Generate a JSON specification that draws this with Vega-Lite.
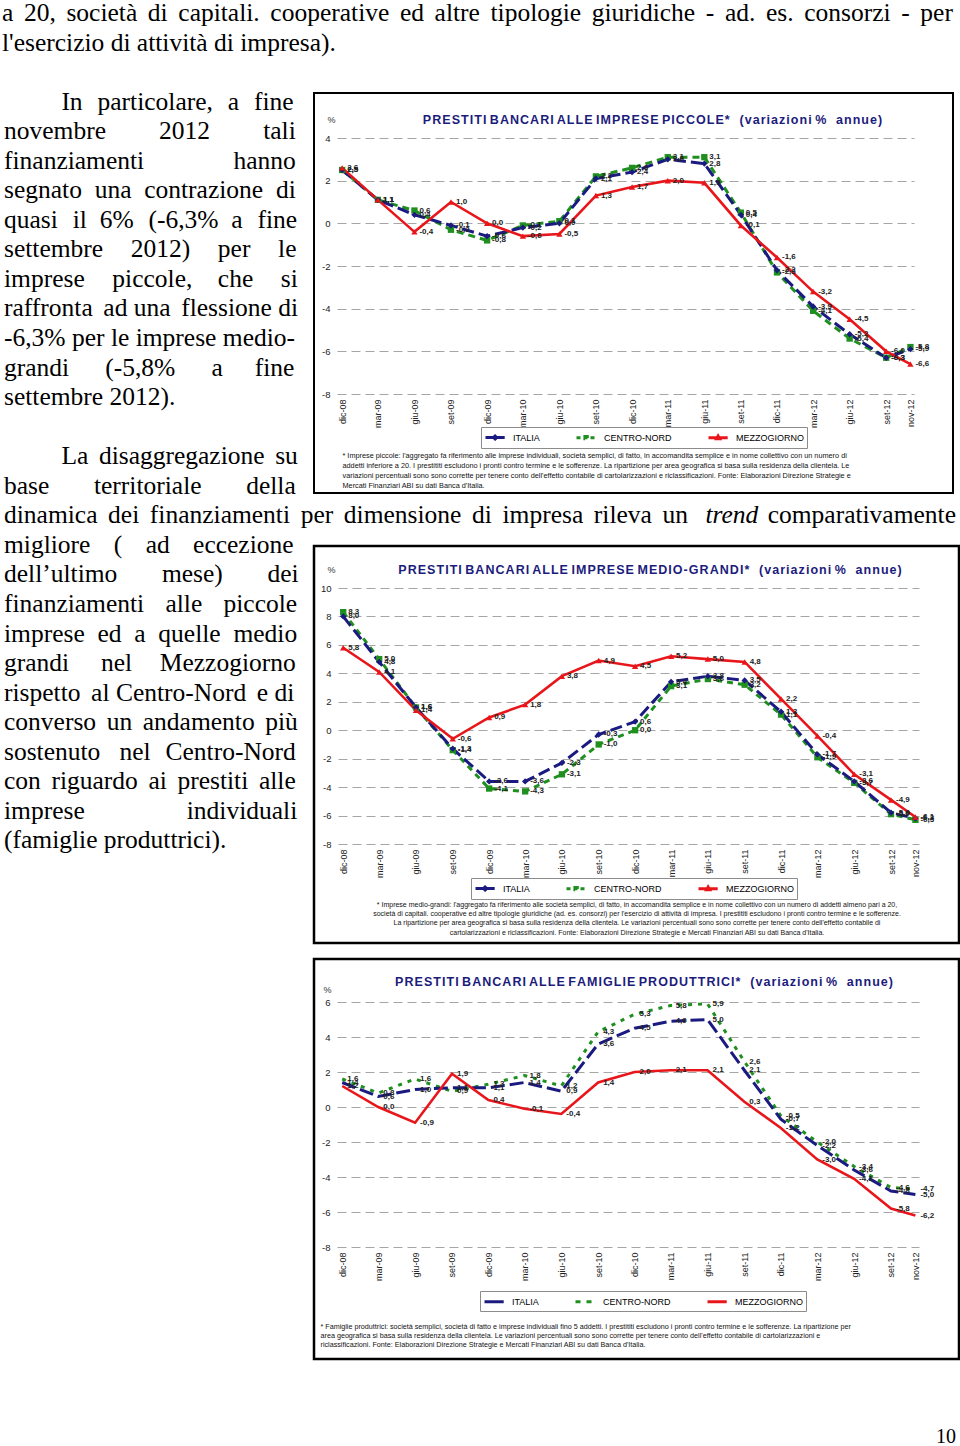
{
"$schema": "https://vega.github.io/schema/vega-lite/v6.json",
"background": "#ffffff",
"padding": 0,
"columns": 2,
"align": "none",
"bounds": "flush",
"spacing": {"row": 0, "column": 13},
"config": {
  "view": {"stroke": "transparent"},
  "font": "Liberation Sans",
  "locale": {"number": {"decimal": ",", "thousands": ".", "grouping": [3], "currency": ["", " €"], "minus": "-"}}
},
"datasets": {
  "piccole": [
    {"mese":"2008-12-01","ITALIA":2.5,"CENTRO-NORD":2.5,"MEZZOGIORNO":2.6},
    {"mese":"2009-03-01","ITALIA":1.1,"CENTRO-NORD":1.1,"MEZZOGIORNO":1.1},
    {"mese":"2009-06-01","ITALIA":0.4,"CENTRO-NORD":0.6,"MEZZOGIORNO":-0.4},
    {"mese":"2009-09-01","ITALIA":-0.1,"CENTRO-NORD":-0.3,"MEZZOGIORNO":1.0},
    {"mese":"2009-12-01","ITALIA":-0.6,"CENTRO-NORD":-0.8,"MEZZOGIORNO":0.0},
    {"mese":"2010-03-01","ITALIA":-0.2,"CENTRO-NORD":-0.1,"MEZZOGIORNO":-0.6},
    {"mese":"2010-06-01","ITALIA":0.0,"CENTRO-NORD":0.1,"MEZZOGIORNO":-0.5},
    {"mese":"2010-09-01","ITALIA":2.1,"CENTRO-NORD":2.2,"MEZZOGIORNO":1.3},
    {"mese":"2010-12-01","ITALIA":2.4,"CENTRO-NORD":2.6,"MEZZOGIORNO":1.7},
    {"mese":"2011-03-01","ITALIA":3.0,"CENTRO-NORD":3.1,"MEZZOGIORNO":2.0},
    {"mese":"2011-06-01","ITALIA":2.8,"CENTRO-NORD":3.1,"MEZZOGIORNO":1.9},
    {"mese":"2011-09-01","ITALIA":0.4,"CENTRO-NORD":0.5,"MEZZOGIORNO":-0.1},
    {"mese":"2011-12-01","ITALIA":-2.2,"CENTRO-NORD":-2.3,"MEZZOGIORNO":-1.6},
    {"mese":"2012-03-01","ITALIA":-3.9,"CENTRO-NORD":-4.1,"MEZZOGIORNO":-3.2},
    {"mese":"2012-06-01","ITALIA":-5.2,"CENTRO-NORD":-5.4,"MEZZOGIORNO":-4.5},
    {"mese":"2012-09-01","ITALIA":-6.3,"CENTRO-NORD":-6.3,"MEZZOGIORNO":-6.0},
    {"mese":"2012-11-01","ITALIA":-5.9,"CENTRO-NORD":-5.8,"MEZZOGIORNO":-6.6}
  ],
  "medio": [
    {"mese":"2008-12-01","ITALIA":8.0,"CENTRO-NORD":8.3,"MEZZOGIORNO":5.8},
    {"mese":"2009-03-01","ITALIA":4.8,"CENTRO-NORD":5.0,"MEZZOGIORNO":4.1},
    {"mese":"2009-06-01","ITALIA":1.6,"CENTRO-NORD":1.6,"MEZZOGIORNO":1.4},
    {"mese":"2009-09-01","ITALIA":-1.3,"CENTRO-NORD":-1.4,"MEZZOGIORNO":-0.6},
    {"mese":"2009-12-01","ITALIA":-3.6,"CENTRO-NORD":-4.1,"MEZZOGIORNO":0.9},
    {"mese":"2010-03-01","ITALIA":-3.6,"CENTRO-NORD":-4.3,"MEZZOGIORNO":1.8},
    {"mese":"2010-06-01","ITALIA":-2.3,"CENTRO-NORD":-3.1,"MEZZOGIORNO":3.8},
    {"mese":"2010-09-01","ITALIA":-0.3,"CENTRO-NORD":-1.0,"MEZZOGIORNO":4.9},
    {"mese":"2010-12-01","ITALIA":0.6,"CENTRO-NORD":0.0,"MEZZOGIORNO":4.5},
    {"mese":"2011-03-01","ITALIA":3.4,"CENTRO-NORD":3.1,"MEZZOGIORNO":5.2},
    {"mese":"2011-06-01","ITALIA":3.8,"CENTRO-NORD":3.6,"MEZZOGIORNO":5.0},
    {"mese":"2011-09-01","ITALIA":3.5,"CENTRO-NORD":3.2,"MEZZOGIORNO":4.8},
    {"mese":"2011-12-01","ITALIA":1.3,"CENTRO-NORD":1.1,"MEZZOGIORNO":2.2},
    {"mese":"2012-03-01","ITALIA":-1.7,"CENTRO-NORD":-1.9,"MEZZOGIORNO":-0.4},
    {"mese":"2012-06-01","ITALIA":-3.6,"CENTRO-NORD":-3.7,"MEZZOGIORNO":-3.1},
    {"mese":"2012-09-01","ITALIA":-5.8,"CENTRO-NORD":-5.9,"MEZZOGIORNO":-4.9},
    {"mese":"2012-11-01","ITALIA":-6.2,"CENTRO-NORD":-6.3,"MEZZOGIORNO":-6.1}
  ],
  "famiglie": [
    {"mese":"2008-12-01","ITALIA":1.4,"CENTRO-NORD":1.6,"MEZZOGIORNO":1.2},
    {"mese":"2009-03-01","ITALIA":0.6,"CENTRO-NORD":0.8,"MEZZOGIORNO":0.0},
    {"mese":"2009-06-01","ITALIA":1.0,"CENTRO-NORD":1.6,"MEZZOGIORNO":-0.9},
    {"mese":"2009-09-01","ITALIA":1.1,"CENTRO-NORD":0.9,"MEZZOGIORNO":1.9},
    {"mese":"2009-12-01","ITALIA":1.1,"CENTRO-NORD":1.3,"MEZZOGIORNO":0.4},
    {"mese":"2010-03-01","ITALIA":1.4,"CENTRO-NORD":1.8,"MEZZOGIORNO":-0.1},
    {"mese":"2010-06-01","ITALIA":0.9,"CENTRO-NORD":1.2,"MEZZOGIORNO":-0.4},
    {"mese":"2010-09-01","ITALIA":3.6,"CENTRO-NORD":4.3,"MEZZOGIORNO":1.4},
    {"mese":"2010-12-01","ITALIA":4.5,"CENTRO-NORD":5.3,"MEZZOGIORNO":2.0},
    {"mese":"2011-03-01","ITALIA":4.9,"CENTRO-NORD":5.8,"MEZZOGIORNO":2.1},
    {"mese":"2011-06-01","ITALIA":5.0,"CENTRO-NORD":5.9,"MEZZOGIORNO":2.1},
    {"mese":"2011-09-01","ITALIA":2.1,"CENTRO-NORD":2.6,"MEZZOGIORNO":0.3},
    {"mese":"2011-12-01","ITALIA":-0.7,"CENTRO-NORD":-0.5,"MEZZOGIORNO":-1.2},
    {"mese":"2012-03-01","ITALIA":-2.2,"CENTRO-NORD":-2.0,"MEZZOGIORNO":-3.0},
    {"mese":"2012-06-01","ITALIA":-3.6,"CENTRO-NORD":-3.4,"MEZZOGIORNO":-4.1},
    {"mese":"2012-09-01","ITALIA":-4.8,"CENTRO-NORD":-4.6,"MEZZOGIORNO":-5.8},
    {"mese":"2012-11-01","ITALIA":-5.0,"CENTRO-NORD":-4.7,"MEZZOGIORNO":-6.2}
  ]
},
"resolve": {"scale": {"color": "independent", "shape": "independent", "strokeDash": "independent"}, "legend": {"color": "independent", "shape": "independent", "strokeDash": "independent"}},
"concat": [
  {
    "width": 300, "height": 92,
    "data": {"values": [
      {"riga": 0, "testo": "a \u200620, \u2006società \u2006di \u2006capitali. \u2006cooperative \u2006ed \u2006altre \u2006tipologie \u2006giuridiche \u2006- \u2006ad. \u2006es. \u2006consorzi \u2006- \u2006per"},
      {"riga": 1, "testo": "l'esercizio di attività di impresa)."}
    ]},
    "mark": {"type": "text", "align": "left", "baseline": "middle", "font": "Liberation Serif", "fontSize": 25.5, "color": "#000000", "dx": 1},
    "encoding": {
      "x": {"datum": 0, "type": "quantitative", "scale": {"domain": [0, 1], "nice": false, "zero": false}, "axis": null},
      "y": {"field": "riga", "type": "quantitative", "scale": {"domain": [-0.406, 2.707], "reverse": true, "nice": false, "zero": false}, "axis": null},
      "text": {"field": "testo"}
    }
  },
  {
    "width": 645, "height": 92,
    "data": {"values": [{"testo": ""}]},
    "mark": {"type": "text"},
    "encoding": {"text": {"field": "testo"}}
  },
  {
    "width": 300, "height": 400,
    "data": {"values": [
      {"riga": 3, "testo": "\u200b\u2003\u2003\u2005In \u2004particolare, \u2004a \u2004fine"},
      {"riga": 4, "testo": "novembre \u2003\u2002\u20042012 \u2003\u2002\u2004tali"},
      {"riga": 5, "testo": "finanziamenti\u2003\u2003\u2003\u2002hanno"},
      {"riga": 6, "testo": "segnato \u2005una \u2005contrazione \u2005di"},
      {"riga": 7, "testo": "quasi \u2004il \u20056% \u2004(-6,3% \u2005a \u2004fine"},
      {"riga": 8, "testo": "settembre \u2002\u20042012) \u2002\u2004per \u2002\u2004le"},
      {"riga": 9, "testo": "imprese \u2002\u2004piccole, \u2002\u2005che \u2002\u2004si"},
      {"riga": 10, "testo": "raffronta \u2006ad una \u2006flessione di"},
      {"riga": 11, "testo": "-6,3% per le imprese medio-"},
      {"riga": 12, "testo": "grandi \u2003\u2006(-5,8% \u2003\u2006a \u2003fine"},
      {"riga": 13, "testo": "settembre 2012)."},
      {"riga": 15, "testo": "\u200b\u2003\u2003\u2005La \u2006disaggregazione \u2006su"},
      {"riga": 16, "testo": "base \u2003\u2002territoriale \u2003\u2002della"}
    ]},
    "mark": {"type": "text", "align": "left", "baseline": "middle", "font": "Liberation Serif", "fontSize": 25.5, "color": "#000000", "dx": 3},
    "encoding": {
      "x": {"datum": 0, "type": "quantitative", "scale": {"domain": [0, 1], "nice": false, "zero": false}, "axis": null},
      "y": {"field": "riga", "type": "quantitative", "scale": {"domain": [2.707, 16.244], "reverse": true, "nice": false, "zero": false}, "axis": null},
      "text": {"field": "testo"}
    }
  },
  {
    "width": 639, "height": 400,
    "view": {"stroke": "#000000", "strokeWidth": 2, "fill": "#ffffff"},
    "title": {"text": "P\u200aR\u200aE\u200aS\u200aT\u200aI\u200aT\u200aI B\u200aA\u200aN\u200aC\u200aA\u200aR\u200aI A\u200aL\u200aL\u200aE I\u200aM\u200aP\u200aR\u200aE\u200aS\u200aE P\u200aI\u200aC\u200aC\u200aO\u200aL\u200aE\u200a* \u2002(\u200av\u200aa\u200ar\u200ai\u200aa\u200az\u200ai\u200ao\u200an\u200ai %\u2002 a\u200an\u200an\u200au\u200ae\u200a)", "frame": "group", "anchor": "middle", "orient": "top", "offset": -39, "dx": 19, "baseline": "middle", "font": "Liberation Sans", "fontSize": 12.5, "fontWeight": "bold", "color": "#1c1c7c"},
    "data": {"name": "piccole"},
    "transform": [{"fold": ["ITALIA", "CENTRO-NORD", "MEZZOGIORNO"], "as": ["serie", "valore"]}],
    "encoding": {
      "x": {"field": "mese", "type": "temporal",
        "scale": {"type": "utc", "domain": [{"year":2008,"month":11,"date":18,"utc":true}, {"year":2012,"month":11,"date":10,"utc":true}], "range": [23, 600]},
        "axis": {"orient": "bottom", "offset": -99,
          "values": [{"year":2008,"month":12,"date":1,"utc":true},{"year":2009,"month":3,"date":1,"utc":true},{"year":2009,"month":6,"date":1,"utc":true},{"year":2009,"month":9,"date":1,"utc":true},{"year":2009,"month":12,"date":1,"utc":true},{"year":2010,"month":3,"date":1,"utc":true},{"year":2010,"month":6,"date":1,"utc":true},{"year":2010,"month":9,"date":1,"utc":true},{"year":2010,"month":12,"date":1,"utc":true},{"year":2011,"month":3,"date":1,"utc":true},{"year":2011,"month":6,"date":1,"utc":true},{"year":2011,"month":9,"date":1,"utc":true},{"year":2011,"month":12,"date":1,"utc":true},{"year":2012,"month":3,"date":1,"utc":true},{"year":2012,"month":6,"date":1,"utc":true},{"year":2012,"month":9,"date":1,"utc":true},{"year":2012,"month":11,"date":1,"utc":true}],
          "labelExpr": "['gen','feb','mar','apr','mag','giu','lug','ago','set','ott','nov','dic'][utcmonth(datum.value)] + '-' + utcFormat(datum.value, '%y')",
          "labelAngle": -90, "labelPadding": 5, "labelFont": "Liberation Sans", "labelFontSize": 9, "labelColor": "#222222",
          "labelOverlap": false, "labelBound": false, "labelFlush": false, "ticks": false, "domain": false, "grid": false,
          "title": ["*   Imprese piccole: l'aggregato fa riferimento alle imprese individuali, società semplici, di fatto, in accomandita semplice e in nome collettivo con un numero di", "addetti inferiore a 20. I prestititi escludono i pronti contro termine e le sofferenze. La ripartizione per area geografica si basa sulla residenza della clientela. Le", "variazioni percentuali sono sono corrette per tenere conto dell'effetto contabile di cartolarizzazioni e riclassificazioni. Fonte: Elaborazioni Direzione Strategie e", "Mercati Finanziari ABI su dati Banca d'Italia."],
          "titleX": 28, "titleY": 57, "titleAlign": "left", "titleAnchor": "start", "titleBaseline": "top", "titleAngle": 0,
          "titleFont": "Liberation Sans", "titleFontSize": 7.3, "titleFontWeight": "normal", "titleColor": "#111111", "titleLineHeight": 10, "titleLimit": 5000, "titlePadding": 0}
      },
      "y": {"field": "valore", "type": "quantitative",
        "scale": {"domain": [-8, 4], "range": [301, 45], "nice": false, "zero": false},
        "axis": {"orient": "left", "offset": -23, "values": [4, 2, 0, -2, -4, -6, -8], "labelPadding": 7, "labelFont": "Liberation Sans", "labelFontSize": 9.5, "labelColor": "#222222", "ticks": false, "domain": false, "grid": true, "gridColor": "#a6a6a6", "gridDash": [9, 5], "gridWidth": 1, "labelFlush": false, "labelOverlap": false,
          "title": "%", "titleAngle": 0, "titleX": -6, "titleY": 26, "titleAlign": "center", "titleBaseline": "middle", "titleFont": "Liberation Sans", "titleFontSize": 9, "titleFontWeight": "normal", "titleColor": "#333333", "titlePadding": 0}
      }
    },
    "layer": [
      {"data": {"values": [{}]}, "mark": {"type": "rect", "fill": "transparent", "stroke": "#999999", "strokeWidth": 1},
       "encoding": {"x": {"datum": {"year":2008,"month":11,"date":18,"utc":true}}, "x2": {"datum": {"year":2012,"month":11,"date":10,"utc":true}}, "y": {"datum": 4}, "y2": {"datum": -8}}},
      {"data": {"values": [{}]}, "mark": {"type": "rule", "color": "#999999", "strokeWidth": 1},
       "encoding": {"x": {"datum": {"year":2008,"month":11,"date":18,"utc":true}}, "x2": {"datum": {"year":2012,"month":11,"date":10,"utc":true}}, "y": {"datum": 0}}},
      {"transform": [{"filter": "datum.serie === 'CENTRO-NORD'"}], "mark": {"type": "line", "color": "#1f8f1f", "strokeWidth": 3, "strokeDash": [7, 5]}},
      {"transform": [{"filter": "datum.serie === 'ITALIA'"}], "mark": {"type": "line", "color": "#1a1a80", "strokeWidth": 3, "strokeDash": [12, 5]}},
      {"transform": [{"filter": "datum.serie === 'MEZZOGIORNO'"}], "mark": {"type": "line", "color": "#e8161b", "strokeWidth": 2.6}},
      {"transform": [{"filter": "datum.serie === 'CENTRO-NORD'"}], "mark": {"type": "point", "shape": "square", "filled": true, "size": 40, "opacity": 1, "color": "#1f8f1f"}},
      {"transform": [{"filter": "datum.serie === 'ITALIA'"}], "mark": {"type": "point", "shape": "diamond", "filled": true, "size": 40, "opacity": 1, "color": "#1a1a80"}},
      {"transform": [{"filter": "datum.serie === 'MEZZOGIORNO'"}], "mark": {"type": "point", "shape": "triangle-up", "filled": true, "size": 40, "opacity": 1, "color": "#e8161b"}},
      {"mark": {"type": "text", "align": "left", "baseline": "middle", "dx": 5, "font": "Liberation Sans", "fontSize": 8, "fontWeight": "bold", "color": "#222222"},
       "encoding": {"text": {"field": "valore", "type": "quantitative", "format": ".1f"}}},
      {"transform": [{"filter": "datum.valore > 1000"}], "mark": {"type": "point", "filled": false, "strokeWidth": 3, "opacity": 1},
       "encoding": {
         "color": {"field": "serie", "type": "nominal",
           "scale": {"domain": ["ITALIA", "CENTRO-NORD", "MEZZOGIORNO"], "range": ["#1a1a80", "#1f8f1f", "#e8161b"]},
           "legend": {"orient": "none", "legendX": 167, "legendY": 334, "direction": "horizontal", "title": null,
             "strokeColor": "#8c8c8c", "fillColor": "#ffffff", "padding": 3, "symbolSize": 144, "symbolStrokeWidth": 3,
             "labelOffset": 14, "columnPadding": 30, "labelFont": "Liberation Sans", "labelFontSize": 9, "labelColor": "#000000", "symbolOpacity": 1}
         },
         "shape": {"field": "serie", "type": "nominal",
           "scale": {"domain": ["ITALIA", "CENTRO-NORD", "MEZZOGIORNO"], "range": ["M-1,0H2.2M0.6,-0.25L0.85,0L0.6,0.25L0.35,0Z", "M-1,0H2.2M0.4,-0.2H0.8V0.2H0.4Z", "M-1,0H2.2M0.6,-0.25L0.85,0.2H0.35Z"]}},
         "strokeDash": {"field": "serie", "type": "nominal",
           "scale": {"domain": ["ITALIA", "CENTRO-NORD", "MEZZOGIORNO"], "range": [[1, 0], [4, 3], [1, 0]]}}
       }}
    ]
  },
  {
    "width": 300, "height": 53,
    "data": {"values": [{"riga": 17, "testo": "dinamica \u2006dei \u2006finanziamenti \u2006per \u2006dimensione \u2006di \u2006impresa \u2006rileva \u2006un"}]},
    "mark": {"type": "text", "align": "left", "baseline": "middle", "font": "Liberation Serif", "fontSize": 25.5, "color": "#000000", "dx": 3},
    "encoding": {
      "x": {"datum": 0, "type": "quantitative", "scale": {"domain": [0, 1], "nice": false, "zero": false}, "axis": null},
      "y": {"field": "riga", "type": "quantitative", "scale": {"domain": [16.244, 18.037], "reverse": true, "nice": false, "zero": false}, "axis": null},
      "text": {"field": "testo"}
    }
  },
  {
    "width": 645, "height": 53,
    "encoding": {
      "x": {"datum": 1, "type": "quantitative", "scale": {"domain": [0, 1], "nice": false, "zero": false}, "axis": null},
      "y": {"field": "riga", "type": "quantitative", "scale": {"domain": [16.244, 18.037], "reverse": true, "nice": false, "zero": false}, "axis": null},
      "text": {"field": "testo"}
    },
    "layer": [
      {
        "data": {"values": [{"riga": 17, "testo": "trend\u2003\u2003\u2003\u2003\u2003\u2003\u2003\u2002\u2005\u200b"}]},
        "mark": {"type": "text", "align": "right", "baseline": "middle", "font": "Liberation Serif", "fontSize": 25.5, "fontStyle": "italic", "color": "#000000", "dx": -3}
      },
      {
        "data": {"values": [{"riga": 17, "testo": "comparativamente"}]},
        "mark": {"type": "text", "align": "right", "baseline": "middle", "font": "Liberation Serif", "fontSize": 25.5, "color": "#000000", "dx": -3}
      }
    ]
  },
  {
    "width": 300, "height": 397,
    "data": {"values": [
      {"riga": 18, "testo": "migliore \u2002\u2006( \u2002\u2006ad \u2002\u2006eccezione"},
      {"riga": 19, "testo": "dell’ultimo \u2003\u2002mese) \u2003\u2002dei"},
      {"riga": 20, "testo": "finanziamenti \u2004\u2005alle \u2004\u2005piccole"},
      {"riga": 21, "testo": "imprese \u2005ed \u2005a \u2005quelle \u2005medio"},
      {"riga": 22, "testo": "grandi \u2003nel \u2002\u2004Mezzogiorno"},
      {"riga": 23, "testo": "rispetto \u2006al Centro-Nord \u2006e di"},
      {"riga": 24, "testo": "converso \u2006un \u2006andamento \u2006più"},
      {"riga": 25, "testo": "sostenuto \u2002nel \u2004Centro-Nord"},
      {"riga": 26, "testo": "con \u2006riguardo \u2006ai \u2006prestiti \u2006alle"},
      {"riga": 27, "testo": "imprese\u2003\u2003\u2003\u2003individuali"},
      {"riga": 28, "testo": "(famiglie produttrici)."}
    ]},
    "mark": {"type": "text", "align": "left", "baseline": "middle", "font": "Liberation Serif", "fontSize": 25.5, "color": "#000000", "dx": 3},
    "encoding": {
      "x": {"datum": 0, "type": "quantitative", "scale": {"domain": [0, 1], "nice": false, "zero": false}, "axis": null},
      "y": {"field": "riga", "type": "quantitative", "scale": {"domain": [18.037, 31.472], "reverse": true, "nice": false, "zero": false}, "axis": null},
      "text": {"field": "testo"}
    }
  },
  {
    "width": 645, "height": 397,
    "view": {"stroke": "#000000", "strokeWidth": 2.5, "fill": "#ffffff"},
    "title": {"text": "P\u200aR\u200aE\u200aS\u200aT\u200aI\u200aT\u200aI B\u200aA\u200aN\u200aC\u200aA\u200aR\u200aI A\u200aL\u200aL\u200aE I\u200aM\u200aP\u200aR\u200aE\u200aS\u200aE M\u200aE\u200aD\u200aI\u200aO\u200a-\u200aG\u200aR\u200aA\u200aN\u200aD\u200aI\u200a* \u2002(\u200av\u200aa\u200ar\u200ai\u200aa\u200az\u200ai\u200ao\u200an\u200ai %\u2002 a\u200an\u200an\u200au\u200ae\u200a)", "frame": "group", "anchor": "middle", "orient": "top", "offset": -36, "dx": 13.5, "baseline": "middle", "font": "Liberation Sans", "fontSize": 12.5, "fontWeight": "bold", "color": "#1c1c7c"},
    "data": {"name": "medio"},
    "transform": [{"fold": ["ITALIA", "CENTRO-NORD", "MEZZOGIORNO"], "as": ["serie", "valore"]}],
    "encoding": {
      "x": {"field": "mese", "type": "temporal",
        "scale": {"type": "utc", "domain": [{"year":2008,"month":11,"date":18,"utc":true}, {"year":2012,"month":11,"date":10,"utc":true}], "range": [24, 605]},
        "axis": {"orient": "bottom", "offset": -99,
          "values": [{"year":2008,"month":12,"date":1,"utc":true},{"year":2009,"month":3,"date":1,"utc":true},{"year":2009,"month":6,"date":1,"utc":true},{"year":2009,"month":9,"date":1,"utc":true},{"year":2009,"month":12,"date":1,"utc":true},{"year":2010,"month":3,"date":1,"utc":true},{"year":2010,"month":6,"date":1,"utc":true},{"year":2010,"month":9,"date":1,"utc":true},{"year":2010,"month":12,"date":1,"utc":true},{"year":2011,"month":3,"date":1,"utc":true},{"year":2011,"month":6,"date":1,"utc":true},{"year":2011,"month":9,"date":1,"utc":true},{"year":2011,"month":12,"date":1,"utc":true},{"year":2012,"month":3,"date":1,"utc":true},{"year":2012,"month":6,"date":1,"utc":true},{"year":2012,"month":9,"date":1,"utc":true},{"year":2012,"month":11,"date":1,"utc":true}],
          "labelExpr": "['gen','feb','mar','apr','mag','giu','lug','ago','set','ott','nov','dic'][utcmonth(datum.value)] + '-' + utcFormat(datum.value, '%y')",
          "labelAngle": -90, "labelPadding": 5, "labelFont": "Liberation Sans", "labelFontSize": 9, "labelColor": "#222222",
          "labelOverlap": false, "labelBound": false, "labelFlush": false, "ticks": false, "domain": false, "grid": false,
          "title": ["*   Imprese medio-grandi: l'aggregato fa riferimento alle società semplici, di fatto, in accomandita semplice e in nome collettivo con un numero di addetti almeno pari a 20,", "società di capitali. cooperative ed altre tipologie giuridiche (ad. es. consorzi) per l'esercizio di attività di impresa. I prestititi escludono i pronti contro termine e le sofferenze.", "La ripartizione per area geografica si basa sulla residenza della clientela. Le variazioni percentuali sono sono corrette per tenere conto dell'effetto contabile di", "cartolarizzazioni e riclassificazioni. Fonte: Elaborazioni Direzione Strategie e Mercati Finanziari ABI su dati Banca d'Italia."],
          "titleX": 322.5, "titleY": 56, "titleAlign": "center", "titleAnchor": "middle", "titleBaseline": "top", "titleAngle": 0,
          "titleFont": "Liberation Sans", "titleFontSize": 7, "titleFontWeight": "normal", "titleColor": "#111111", "titleLineHeight": 9.4, "titleLimit": 5000, "titlePadding": 0}
      },
      "y": {"field": "valore", "type": "quantitative",
        "scale": {"domain": [-8, 10], "range": [298, 42], "nice": false, "zero": false},
        "axis": {"orient": "left", "offset": -24, "values": [10, 8, 6, 4, 2, 0, -2, -4, -6, -8], "labelPadding": 7, "labelFont": "Liberation Sans", "labelFontSize": 9.5, "labelColor": "#222222", "ticks": false, "domain": false, "grid": true, "gridColor": "#a6a6a6", "gridDash": [9, 5], "gridWidth": 1, "labelFlush": false, "labelOverlap": false,
          "title": "%", "titleAngle": 0, "titleX": -7, "titleY": 23, "titleAlign": "center", "titleBaseline": "middle", "titleFont": "Liberation Sans", "titleFontSize": 9, "titleFontWeight": "normal", "titleColor": "#333333", "titlePadding": 0}
      }
    },
    "layer": [
      {"data": {"values": [{}]}, "mark": {"type": "rect", "fill": "transparent", "stroke": "#999999", "strokeWidth": 1},
       "encoding": {"x": {"datum": {"year":2008,"month":11,"date":18,"utc":true}}, "x2": {"datum": {"year":2012,"month":11,"date":10,"utc":true}}, "y": {"datum": 10}, "y2": {"datum": -8}}},
      {"data": {"values": [{}]}, "mark": {"type": "rule", "color": "#999999", "strokeWidth": 1},
       "encoding": {"x": {"datum": {"year":2008,"month":11,"date":18,"utc":true}}, "x2": {"datum": {"year":2012,"month":11,"date":10,"utc":true}}, "y": {"datum": 0}}},
      {"transform": [{"filter": "datum.serie === 'CENTRO-NORD'"}], "mark": {"type": "line", "color": "#1f8f1f", "strokeWidth": 3, "strokeDash": [6, 5]}},
      {"transform": [{"filter": "datum.serie === 'ITALIA'"}], "mark": {"type": "line", "color": "#1a1a80", "strokeWidth": 3, "strokeDash": [12, 5]}},
      {"transform": [{"filter": "datum.serie === 'MEZZOGIORNO'"}], "mark": {"type": "line", "color": "#e8161b", "strokeWidth": 2.6}},
      {"transform": [{"filter": "datum.serie === 'CENTRO-NORD'"}], "mark": {"type": "point", "shape": "square", "filled": true, "size": 40, "opacity": 1, "color": "#1f8f1f"}},
      {"transform": [{"filter": "datum.serie === 'ITALIA'"}], "mark": {"type": "point", "shape": "diamond", "filled": true, "size": 40, "opacity": 1, "color": "#1a1a80"}},
      {"transform": [{"filter": "datum.serie === 'MEZZOGIORNO'"}], "mark": {"type": "point", "shape": "triangle-up", "filled": true, "size": 40, "opacity": 1, "color": "#e8161b"}},
      {"mark": {"type": "text", "align": "left", "baseline": "middle", "dx": 5, "font": "Liberation Sans", "fontSize": 8, "fontWeight": "bold", "color": "#222222"},
       "encoding": {"text": {"field": "valore", "type": "quantitative", "format": ".1f"}}},
      {"transform": [{"filter": "datum.valore > 1000"}], "mark": {"type": "point", "filled": false, "strokeWidth": 3, "opacity": 1},
       "encoding": {
         "color": {"field": "serie", "type": "nominal",
           "scale": {"domain": ["ITALIA", "CENTRO-NORD", "MEZZOGIORNO"], "range": ["#1a1a80", "#1f8f1f", "#e8161b"]},
           "legend": {"orient": "none", "legendX": 157, "legendY": 332, "direction": "horizontal", "title": null,
             "strokeColor": "#8c8c8c", "fillColor": "#ffffff", "padding": 3, "symbolSize": 144, "symbolStrokeWidth": 3,
             "labelOffset": 14, "columnPadding": 30, "labelFont": "Liberation Sans", "labelFontSize": 9, "labelColor": "#000000", "symbolOpacity": 1}
         },
         "shape": {"field": "serie", "type": "nominal",
           "scale": {"domain": ["ITALIA", "CENTRO-NORD", "MEZZOGIORNO"], "range": ["M-1,0H2.2M0.6,-0.25L0.85,0L0.6,0.25L0.35,0Z", "M-1,0H2.2M0.4,-0.2H0.8V0.2H0.4Z", "M-1,0H2.2M0.6,-0.25L0.85,0.2H0.35Z"]}},
         "strokeDash": {"field": "serie", "type": "nominal",
           "scale": {"domain": ["ITALIA", "CENTRO-NORD", "MEZZOGIORNO"], "range": [[1, 0], [4, 3], [1, 0]]}}
       }}
    ]
  },
  {
    "width": 300, "height": 16,
    "data": {"values": [{"testo": ""}]},
    "mark": {"type": "text"},
    "encoding": {"text": {"field": "testo"}}
  },
  {
    "width": 645, "height": 16,
    "data": {"values": [{"testo": ""}]},
    "mark": {"type": "text"},
    "encoding": {"text": {"field": "testo"}}
  },
  {
    "width": 300, "height": 400,
    "data": {"values": [{"testo": ""}]},
    "mark": {"type": "text"},
    "encoding": {"text": {"field": "testo"}}
  },
  {
    "width": 645, "height": 400,
    "view": {"stroke": "#000000", "strokeWidth": 2.5, "fill": "#ffffff"},
    "title": {"text": "P\u200aR\u200aE\u200aS\u200aT\u200aI\u200aT\u200aI B\u200aA\u200aN\u200aC\u200aA\u200aR\u200aI A\u200aL\u200aL\u200aE F\u200aA\u200aM\u200aI\u200aG\u200aL\u200aI\u200aE P\u200aR\u200aO\u200aD\u200aU\u200aT\u200aT\u200aR\u200aI\u200aC\u200aI\u200a* \u2002(\u200av\u200aa\u200ar\u200ai\u200aa\u200az\u200ai\u200ao\u200an\u200ai %\u2002 a\u200an\u200an\u200au\u200ae\u200a)", "frame": "group", "anchor": "middle", "orient": "top", "offset": -35, "dx": 7.5, "baseline": "middle", "font": "Liberation Sans", "fontSize": 12.5, "fontWeight": "bold", "color": "#1c1c7c"},
    "data": {"name": "famiglie"},
    "transform": [{"fold": ["ITALIA", "CENTRO-NORD", "MEZZOGIORNO"], "as": ["serie", "valore"]}],
    "encoding": {
      "x": {"field": "mese", "type": "temporal",
        "scale": {"type": "utc", "domain": [{"year":2008,"month":11,"date":18,"utc":true}, {"year":2012,"month":11,"date":10,"utc":true}], "range": [23, 605]},
        "axis": {"orient": "bottom", "offset": -112,
          "values": [{"year":2008,"month":12,"date":1,"utc":true},{"year":2009,"month":3,"date":1,"utc":true},{"year":2009,"month":6,"date":1,"utc":true},{"year":2009,"month":9,"date":1,"utc":true},{"year":2009,"month":12,"date":1,"utc":true},{"year":2010,"month":3,"date":1,"utc":true},{"year":2010,"month":6,"date":1,"utc":true},{"year":2010,"month":9,"date":1,"utc":true},{"year":2010,"month":12,"date":1,"utc":true},{"year":2011,"month":3,"date":1,"utc":true},{"year":2011,"month":6,"date":1,"utc":true},{"year":2011,"month":9,"date":1,"utc":true},{"year":2011,"month":12,"date":1,"utc":true},{"year":2012,"month":3,"date":1,"utc":true},{"year":2012,"month":6,"date":1,"utc":true},{"year":2012,"month":9,"date":1,"utc":true},{"year":2012,"month":11,"date":1,"utc":true}],
          "labelExpr": "['gen','feb','mar','apr','mag','giu','lug','ago','set','ott','nov','dic'][utcmonth(datum.value)] + '-' + utcFormat(datum.value, '%y')",
          "labelAngle": -90, "labelPadding": 5, "labelFont": "Liberation Sans", "labelFontSize": 9, "labelColor": "#222222",
          "labelOverlap": false, "labelBound": false, "labelFlush": false, "ticks": false, "domain": false, "grid": false,
          "title": ["*   Famiglie produttrici: società semplici, società di fatto e imprese individuali fino 5 addetti. I prestititi escludono i pronti contro termine e le sofferenze. La ripartizione per", "area geografica si basa sulla residenza della clientela. Le variazioni percentuali sono sono corrette per tenere conto dell'effetto contabile di cartolarizzazioni e", "riclassificazioni. Fonte: Elaborazioni Direzione Strategie e Mercati Finanziari ABI su dati Banca d'Italia."],
          "titleX": 6, "titleY": 75, "titleAlign": "left", "titleAnchor": "start", "titleBaseline": "top", "titleAngle": 0,
          "titleFont": "Liberation Sans", "titleFontSize": 7.2, "titleFontWeight": "normal", "titleColor": "#111111", "titleLineHeight": 9.2, "titleLimit": 5000, "titlePadding": 0}
      },
      "y": {"field": "valore", "type": "quantitative",
        "scale": {"domain": [-8, 6], "range": [288, 43], "nice": false, "zero": false},
        "axis": {"orient": "left", "offset": -23, "values": [6, 4, 2, 0, -2, -4, -6, -8], "labelPadding": 7, "labelFont": "Liberation Sans", "labelFontSize": 9.5, "labelColor": "#222222", "ticks": false, "domain": false, "grid": true, "gridColor": "#a6a6a6", "gridDash": [9, 5], "gridWidth": 1, "labelFlush": false, "labelOverlap": false,
          "title": "%", "titleAngle": 0, "titleX": -10, "titleY": 30, "titleAlign": "center", "titleBaseline": "middle", "titleFont": "Liberation Sans", "titleFontSize": 9, "titleFontWeight": "normal", "titleColor": "#333333", "titlePadding": 0}
      }
    },
    "layer": [
      {"data": {"values": [{}]}, "mark": {"type": "rect", "fill": "transparent", "stroke": "#999999", "strokeWidth": 1},
       "encoding": {"x": {"datum": {"year":2008,"month":11,"date":18,"utc":true}}, "x2": {"datum": {"year":2012,"month":11,"date":10,"utc":true}}, "y": {"datum": 6}, "y2": {"datum": -8}}},
      {"data": {"values": [{}]}, "mark": {"type": "rule", "color": "#999999", "strokeWidth": 1},
       "encoding": {"x": {"datum": {"year":2008,"month":11,"date":18,"utc":true}}, "x2": {"datum": {"year":2012,"month":11,"date":10,"utc":true}}, "y": {"datum": 0}}},
      {"transform": [{"filter": "datum.serie === 'CENTRO-NORD'"}], "mark": {"type": "line", "color": "#1f8f1f", "strokeWidth": 3, "strokeDash": [4, 6]}},
      {"transform": [{"filter": "datum.serie === 'ITALIA'"}], "mark": {"type": "line", "color": "#1a1a80", "strokeWidth": 3, "strokeDash": [14, 5]}},
      {"transform": [{"filter": "datum.serie === 'MEZZOGIORNO'"}], "mark": {"type": "line", "color": "#e8161b", "strokeWidth": 2.6}},
      {"mark": {"type": "text", "align": "left", "baseline": "middle", "dx": 5, "font": "Liberation Sans", "fontSize": 8, "fontWeight": "bold", "color": "#222222"},
       "encoding": {"text": {"field": "valore", "type": "quantitative", "format": ".1f"}}},
      {"transform": [{"filter": "datum.valore > 1000"}], "mark": {"type": "point", "filled": false, "strokeWidth": 3, "opacity": 1},
       "encoding": {
         "color": {"field": "serie", "type": "nominal",
           "scale": {"domain": ["ITALIA", "CENTRO-NORD", "MEZZOGIORNO"], "range": ["#1a1a80", "#1f8f1f", "#e8161b"]},
           "legend": {"orient": "none", "legendX": 166, "legendY": 332, "direction": "horizontal", "title": null,
             "strokeColor": "#8c8c8c", "fillColor": "#ffffff", "padding": 3, "symbolSize": 144, "symbolStrokeWidth": 3,
             "labelOffset": 14, "columnPadding": 30, "labelFont": "Liberation Sans", "labelFontSize": 9, "labelColor": "#000000", "symbolOpacity": 1}
         },
         "shape": {"field": "serie", "type": "nominal",
           "scale": {"domain": ["ITALIA", "CENTRO-NORD", "MEZZOGIORNO"], "range": ["M-1,0H2.2", "M-1,0H2.2", "M-1,0H2.2"]}},
         "strokeDash": {"field": "serie", "type": "nominal",
           "scale": {"domain": ["ITALIA", "CENTRO-NORD", "MEZZOGIORNO"], "range": [[1, 0], [5, 6], [1, 0]]}}
       }}
    ]
  },
  {
    "width": 300, "height": 88,
    "data": {"values": [{"testo": ""}]},
    "mark": {"type": "text"},
    "encoding": {"text": {"field": "testo"}}
  },
  {
    "width": 645, "height": 88,
    "data": {"values": [{"pagina": "10"}]},
    "mark": {"type": "text", "align": "right", "baseline": "bottom", "font": "Liberation Serif", "fontSize": 20, "color": "#000000", "dx": -3},
    "encoding": {
      "x": {"datum": 1, "type": "quantitative", "scale": {"domain": [0, 1], "nice": false, "zero": false}, "axis": null},
      "y": {"datum": 0, "type": "quantitative", "scale": {"domain": [0, 1], "nice": false, "zero": false}, "axis": null},
      "text": {"field": "pagina"}
    }
  }
]
}
